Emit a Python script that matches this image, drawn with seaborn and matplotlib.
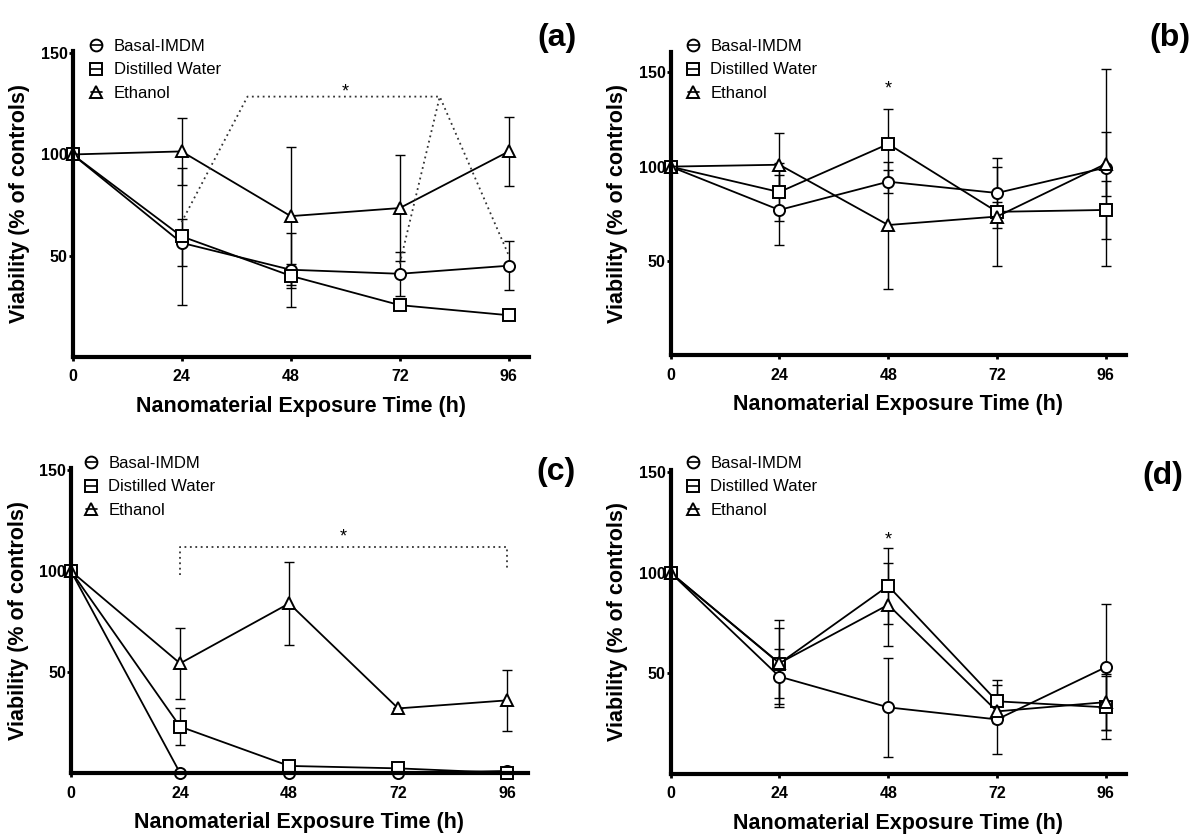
#!/usr/bin/env python3
"""
Cell viability after nanomaterial exposure, four panels (a)-(d)
"""

import matplotlib
matplotlib.use("Agg")
import matplotlib.pyplot as plt
from matplotlib.lines import Line2D
from matplotlib.legend_handler import HandlerTuple
import pandas as pd
import seaborn as sns

sns.set_theme(style="ticks")
plt.rcParams['font.family'] = ['Liberation Sans', 'DejaVu Sans']
# plain black text and axes, like the original figure
for key in ['text.color', 'axes.labelcolor', 'xtick.color', 'ytick.color', 'axes.edgecolor']:
    plt.rcParams[key] = 'black'

# ---- data ----
TIMES = [0, 24, 48, 72, 96]
VEHICLES = ['Basal-IMDM', 'Distilled Water', 'Ethanol']
MARKERS = {'Basal-IMDM': 'o', 'Distilled Water': 's', 'Ethanol': '^'}

# panel (a)
a_basal = [100, 56.3, 43, 41, 45]
a_basal_sd = [0, 11.6, 18.4, 11, 12]
a_water = [100, 59.5, 40, 25.5, 20.5]
a_water_sd = [0, 34, 6, 0, 0]
a_ethanol = [100, 101.5, 69.5, 73.5, 101.5]
a_ethanol_sd = [0, 16.5, 34, 26, 17]
a_sig_x = [24, 38.5, 80.8, 96]
a_sig_y = [66.5, 128.6, 128.6, 50]
a_sig2_x = [72, 80.8]
a_sig2_y = [46, 128.6]
a_star = (60, 131)

# panel (b)
b_basal = [100, 77, 92, 86, 99.5]
b_basal_sd = [0, 18.5, 6, 18.4, 52.5]
b_water = [100, 86.5, 112, 76, 77]
b_water_sd = [0, 15.5, 18.6, 5, 15.5]
b_ethanol = [100, 101, 69, 73.5, 101.5]
b_ethanol_sd = [0, 16.8, 33.7, 26.3, 17]
b_star = (48, 141)

# panel (c)
c_basal = [100, 0, 0, 0, 1]
c_basal_sd = [0, 0, 0, 0, 0]
c_water = [100, 23, 3.5, 2.3, 0]
c_water_sd = [0, 9.3, 0, 0, 0]
c_ethanol = [100, 54.3, 84, 32, 36]
c_ethanol_sd = [0, 17.7, 20.4, 0, 15.2]
c_sig_x = [24, 24, 96, 96]
c_sig_y = [98, 112, 112, 100]
c_star = (60, 117)

# panel (d)
d_basal = [100, 48.3, 33, 27, 53]
d_basal_sd = [0, 13.5, 24.5, 17, 31.2]
d_water = [100, 54.8, 93.4, 36, 33]
d_water_sd = [0, 21.6, 19, 10.8, 15.6]
d_ethanol = [100, 55, 84, 31, 35.6]
d_ethanol_sd = [0, 17.3, 20.6, 3, 14]
d_star = (48, 116)

W, H = 1194, 834


def make_df(basal, water, ethanol):
    rows = []
    for name, vals in zip(VEHICLES, [basal, water, ethanol]):
        for t, v in zip(TIMES, vals):
            rows.append({'time': t, 'viability': v, 'vehicle': name})
    return pd.DataFrame(rows)


def draw_panel(fig, box, ymax, means, sds, tag, tag_xy, legend_xy):
    left, right, top, bottom = box
    ax = fig.add_axes([left / W, 1 - bottom / H, (right - left) / W, (bottom - top) / H])

    # error bars first so the open markers sit on top
    for vals, sd in zip(means, sds):
        ax.errorbar(TIMES, vals, yerr=sd, fmt='none', ecolor='black',
                    elinewidth=1.0, capsize=3.6, capthick=1.0, zorder=1, clip_on=False)

    df = make_df(*means)
    sns.lineplot(data=df, x='time', y='viability', style='vehicle',
                 markers=MARKERS, dashes=False, color='black', errorbar=None,
                 markerfacecolor='white', markeredgecolor='black',
                 markersize=8, markeredgewidth=1.4, linewidth=1.3,
                 legend=False, ax=ax, clip_on=False, zorder=2)

    ax.set_xlim(0, 100.5)
    ax.set_ylim(0, ymax)
    ax.set_xticks(TIMES)
    ax.set_yticks([50, 100, 150])
    ax.tick_params(axis='both', direction='out', length=3, width=2, labelsize=11.5)
    ax.tick_params(axis='y', pad=0.5)
    ax.tick_params(axis='x', pad=6)
    for lab in ax.get_xticklabels() + ax.get_yticklabels():
        lab.set_fontweight('bold')
    sns.despine(ax=ax)
    ax.spines['left'].set_linewidth(3)
    ax.spines['bottom'].set_linewidth(3)

    h_px = bottom - top
    w_px = right - left
    ax.set_xlabel('Nanomaterial Exposure Time (h)', fontsize=15.5, fontweight='bold')
    ax.set_ylabel('Viability (% of controls)', fontsize=15.5, fontweight='bold')
    ax.xaxis.set_label_coords(0.5, -39 / h_px)
    ax.yaxis.set_label_coords(-42 / w_px, 0.5)

    # GraphPad-style legend keys: open marker with a short bar through it
    handles = []
    for name in VEHICLES:
        mk = Line2D([0], [0], marker=MARKERS[name], linestyle='none', markersize=8.5,
                    markerfacecolor='white', markeredgecolor='black', markeredgewidth=1.4)
        ln = Line2D([0], [0], color='black', linewidth=1.2)
        handles.append((mk, ln))
    ax.legend(handles, VEHICLES, handler_map={tuple: HandlerTuple(ndivide=1, pad=0)},
              loc='upper left', bbox_to_anchor=(legend_xy[0] / W, 1 - legend_xy[1] / H),
              bbox_transform=fig.transFigure, frameon=False, fontsize=12,
              handlelength=0.65, handletextpad=0.7, labelspacing=0.5,
              borderpad=0, borderaxespad=0)

    fig.text(tag_xy[0] / W, 1 - tag_xy[1] / H, tag, fontsize=23, fontweight='bold',
             ha='center', va='center')
    return ax


fig = plt.figure(figsize=(11.94, 8.34), dpi=100)

dot = dict(color='#333333', linewidth=1.3, linestyle=(0, (1, 2)), clip_on=False)

ax_a = draw_panel(fig, (72.5, 529.3, 50.7, 356.7), 151.3,
                  [a_basal, a_water, a_ethanol], [a_basal_sd, a_water_sd, a_ethanol_sd],
                  '(a)', (557, 38), (91, 39))
ax_a.plot(a_sig_x, a_sig_y, **dot)
ax_a.plot(a_sig2_x, a_sig2_y, **dot)
ax_a.text(a_star[0], a_star[1], '*', ha='center', va='center', fontsize=13)

ax_b = draw_panel(fig, (670.5, 1126.3, 51.7, 355), 161,
                  [b_basal, b_water, b_ethanol], [b_basal_sd, b_water_sd, b_ethanol_sd],
                  '(b)', (1170, 38), (688, 39))
ax_b.text(b_star[0], b_star[1], '*', ha='center', va='center', fontsize=13)

ax_c = draw_panel(fig, (71, 527.7, 468, 773), 151.1,
                  [c_basal, c_water, c_ethanol], [c_basal_sd, c_water_sd, c_ethanol_sd],
                  '(c)', (556, 472), (86, 456))
ax_c.plot(c_sig_x, c_sig_y, **dot)
ax_c.text(c_star[0], c_star[1], '*', ha='center', va='center', fontsize=13)

ax_d = draw_panel(fig, (670.5, 1126.3, 469.5, 773.7), 151.3,
                  [d_basal, d_water, d_ethanol], [d_basal_sd, d_water_sd, d_ethanol_sd],
                  '(d)', (1163, 476), (688, 456))
ax_d.text(d_star[0], d_star[1], '*', ha='center', va='center', fontsize=13)

fig.savefig('out.png', dpi=100)
plt.close(fig)
